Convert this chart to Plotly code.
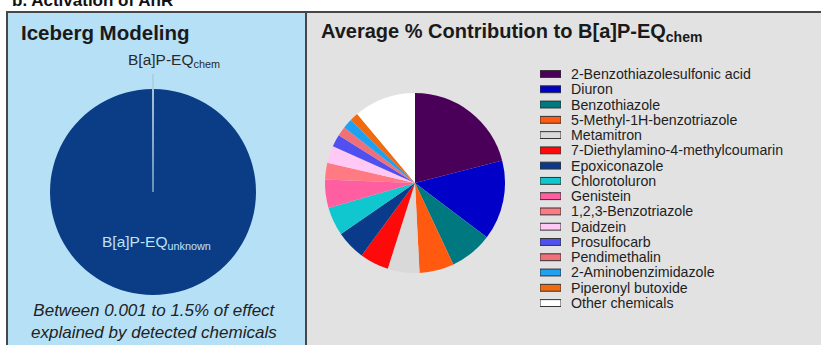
import plotly.graph_objects as go

W, H = 821, 345

# ---------------- data ----------------
chemicals = [
    "2-Benzothiazolesulfonic acid", "Diuron", "Benzothiazole",
    "5-Methyl-1H-benzotriazole", "Metamitron",
    "7-Diethylamino-4-methylcoumarin", "Epoxiconazole", "Chlorotoluron",
    "Genistein", "1,2,3-Benzotriazole", "Daidzein", "Prosulfocarb",
    "Pendimethalin", "2-Aminobenzimidazole", "Piperonyl butoxide",
    "Other chemicals",
]
contribution = [21.0, 14.3, 7.7, 6.2, 5.7, 5.2, 5.3, 5.1,
                5.1, 3.0, 3.1, 2.2, 1.7, 1.75, 1.55, 11.1]
chem_colors = [
    "#4a0058", "#0000c8", "#007880", "#ff5a10", "#d9d9d9",
    "#ff0a0a", "#0a3a8a", "#10c6cf", "#ff5fa0", "#ff7a82",
    "#ffc8f5", "#5050f0", "#f07078", "#1fa0f0", "#f06a10",
    "#ffffff",
]

iceberg_labels = ["B[a]P-EQ<sub>chem</sub>", "B[a]P-EQ<sub>unknown</sub>"]
iceberg_values = [0.3, 99.7]
iceberg_colors = ["#a9c3da", "#0b3d86"]


def X(px):
    return px / W


def Y(py):
    return 1 - py / H


FONT = "Liberation Sans, Arial, Helvetica, sans-serif"

fig = go.Figure()

# left pie (iceberg)
lx0, lx1, ly0, ly1 = 50, 256, 89, 295
fig.add_trace(go.Pie(
    labels=iceberg_labels, values=iceberg_values, sort=False,
    direction="clockwise",
    rotation=-iceberg_values[0] / sum(iceberg_values) * 360 / 2,
    marker=dict(colors=iceberg_colors, line=dict(width=0)),
    textinfo="none", hoverinfo="label+percent", showlegend=False,
    domain=dict(x=[X(lx0), X(lx1)], y=[Y(ly1), Y(ly0)]),
))

# right pie
rx0, rx1, ry0, ry1 = 325, 505, 93, 273
fig.add_trace(go.Pie(
    labels=chemicals, values=contribution, sort=False,
    direction="clockwise", rotation=0,
    marker=dict(colors=chem_colors, line=dict(width=0)),
    textinfo="none", hoverinfo="label+percent", showlegend=False,
    domain=dict(x=[X(rx0), X(rx1)], y=[Y(ry1), Y(ry0)]),
))

# compact legend: swatches as bars, names as axis tick labels
fig.add_trace(go.Bar(
    x=[1] * len(chemicals), y=chemicals, orientation="h",
    marker=dict(color=chem_colors, line=dict(color="#333333", width=1)),
    width=0.45, showlegend=False, hoverinfo="skip",
    xaxis="x", yaxis="y",
))

leg_top, leg_step = 74, 15.27
n = len(chemicals)
fig.update_layout(
    xaxis=dict(domain=[X(540), X(561)], range=[0, 1], visible=False,
               fixedrange=True),
    yaxis=dict(domain=[Y(leg_top + (n - 0.5) * leg_step),
                       Y(leg_top - 0.5 * leg_step)],
               type="category", categoryorder="array",
               categoryarray=chemicals, autorange="reversed",
               tickmode="array", tickvals=chemicals, ticktext=chemicals,
               side="right", anchor="x", showgrid=False, zeroline=False,
               showline=False, ticks="", ticklabelstandoff=9,
               tickfont=dict(family=FONT, size=14.2, color="#1e1e1e"),
               fixedrange=True),
)

# panels
shapes = [
    dict(type="rect", xref="paper", yref="paper", layer="below",
         x0=X(7), x1=X(306), y0=-0.05, y1=Y(12),
         fillcolor="#b6e0f6", line=dict(color="#474747", width=2)),
    dict(type="rect", xref="paper", yref="paper", layer="below",
         x0=X(306), x1=X(W + 10), y0=-0.05, y1=Y(12),
         fillcolor="#e2e2e2", line=dict(color="#474747", width=2)),
]

lcx = X((lx0 + lx1) / 2)
lcy = Y((ly0 + ly1) / 2)
P = dict(xref="paper", yref="paper")
annotations = [
    dict(P, text="<b>b. Activation of AhR</b>", x=X(10), y=Y(0),
         xanchor="left", yanchor="middle", showarrow=False,
         font=dict(family=FONT, size=17, color="#111111")),
    dict(P, text="<b>Iceberg Modeling</b>", x=X(19), y=Y(32),
         xanchor="left", yanchor="middle", showarrow=False,
         font=dict(family=FONT, size=20.5, color="#1a1a1a")),
    dict(P, text="<b>Average % Contribution to B[a]P-EQ<sub>chem</sub></b>",
         x=X(319), y=Y(32), xanchor="left", yanchor="middle",
         showarrow=False,
         font=dict(family=FONT, size=20, color="#1a1a1a")),
    # leader line from chem label to pie centre
    dict(P, text=" ", x=lcx, y=lcy, ax=0, ay=-(192 - 72), showarrow=True,
         arrowhead=0, arrowwidth=1.2, arrowcolor="#a9c3da", standoff=0,
         font=dict(size=1)),
    dict(P, text=iceberg_labels[0], x=X(174), y=Y(61), showarrow=False,
         xanchor="center", yanchor="middle",
         font=dict(family=FONT, size=15.5, color="#2a2a2a")),
    dict(P, text=iceberg_labels[1], x=X(156), y=Y(242), showarrow=False,
         xanchor="center", yanchor="middle",
         font=dict(family=FONT, size=15.5, color="#bfe2f7")),
    dict(P, text="<i>Between 0.001 to 1.5% of effect<br>"
                 "explained by detected chemicals</i>",
         x=X(154), y=Y(321), showarrow=False, xanchor="center",
         yanchor="middle", align="center",
         font=dict(family=FONT, size=17, color="#222222")),
]

fig.update_layout(
    width=W, height=H, margin=dict(l=0, r=0, t=0, b=0),
    paper_bgcolor="#ffffff", plot_bgcolor="rgba(0,0,0,0)",
    shapes=shapes, annotations=annotations, showlegend=False,
    font=dict(family=FONT),
)

fig.write_html("out.html")
